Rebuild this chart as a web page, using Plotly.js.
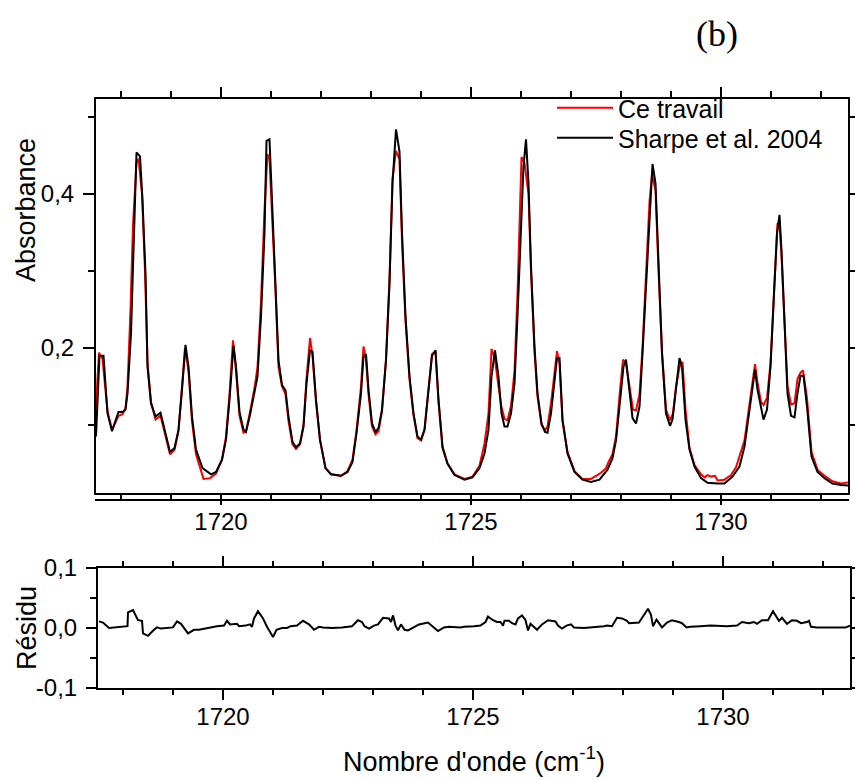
<!DOCTYPE html>
<html>
<head>
<meta charset="utf-8">
<script src="https://cdn.plot.ly/plotly-3.0.1.min.js"></script>
<style>html,body{margin:0;padding:0;background:#fff}#chart{width:855px;height:780px}</style>
</head>
<body>
<div id="chart"></div>
<script>
// Sharpe et al. 2004 (black)
const sharpeX = [1717.50,1717.57,1717.65,1717.73,1717.82,1717.95,1718.03,1718.09,1718.13,1718.20,1718.25,1718.31,1718.38,1718.43,1718.49,1718.53,1718.60,1718.69,1718.79,1718.90,1718.98,1719.07,1719.15,1719.22,1719.29,1719.35,1719.42,1719.50,1719.63,1719.80,1719.90,1720.02,1720.10,1720.17,1720.25,1720.30,1720.37,1720.45,1720.50,1720.58,1720.67,1720.73,1720.80,1720.87,1720.91,1720.97,1721.02,1721.09,1721.15,1721.22,1721.29,1721.35,1721.43,1721.50,1721.58,1721.65,1721.71,1721.78,1721.83,1721.90,1721.98,1722.09,1722.20,1722.40,1722.53,1722.63,1722.71,1722.80,1722.85,1722.90,1722.95,1723.02,1723.09,1723.15,1723.22,1723.30,1723.37,1723.43,1723.50,1723.57,1723.62,1723.69,1723.77,1723.85,1723.93,1724.00,1724.07,1724.13,1724.22,1724.29,1724.35,1724.43,1724.53,1724.67,1724.87,1725.03,1725.17,1725.27,1725.35,1725.41,1725.48,1725.55,1725.61,1725.67,1725.73,1725.80,1725.87,1725.93,1726.00,1726.05,1726.10,1726.15,1726.20,1726.27,1726.33,1726.41,1726.48,1726.53,1726.60,1726.67,1726.72,1726.77,1726.83,1726.93,1727.07,1727.23,1727.40,1727.57,1727.73,1727.83,1727.90,1727.99,1728.05,1728.10,1728.17,1728.23,1728.30,1728.37,1728.43,1728.50,1728.57,1728.63,1728.69,1728.75,1728.82,1728.90,1728.98,1729.03,1729.10,1729.17,1729.22,1729.29,1729.37,1729.47,1729.60,1729.73,1729.93,1730.07,1730.23,1730.37,1730.47,1730.57,1730.63,1730.68,1730.73,1730.80,1730.85,1730.92,1730.99,1731.07,1731.12,1731.17,1731.21,1731.28,1731.33,1731.40,1731.47,1731.53,1731.59,1731.65,1731.72,1731.81,1731.93,1732.07,1732.23,1732.40,1732.60];
const sharpeY = [0.085,0.190,0.190,0.115,0.092,0.117,0.117,0.120,0.141,0.219,0.327,0.454,0.449,0.392,0.297,0.176,0.128,0.111,0.116,0.085,0.065,0.070,0.094,0.146,0.204,0.176,0.111,0.068,0.044,0.036,0.039,0.055,0.081,0.133,0.203,0.176,0.117,0.094,0.091,0.113,0.141,0.163,0.241,0.349,0.469,0.471,0.392,0.284,0.184,0.152,0.145,0.111,0.078,0.071,0.076,0.098,0.154,0.197,0.195,0.133,0.081,0.044,0.036,0.034,0.039,0.052,0.089,0.141,0.189,0.192,0.146,0.102,0.091,0.096,0.120,0.184,0.284,0.414,0.484,0.455,0.349,0.241,0.163,0.115,0.085,0.081,0.094,0.133,0.190,0.197,0.133,0.072,0.050,0.035,0.029,0.032,0.044,0.063,0.094,0.163,0.197,0.163,0.115,0.098,0.098,0.115,0.154,0.241,0.349,0.436,0.471,0.414,0.306,0.202,0.141,0.102,0.091,0.090,0.115,0.163,0.187,0.187,0.107,0.063,0.039,0.029,0.026,0.029,0.042,0.057,0.080,0.137,0.176,0.185,0.141,0.109,0.102,0.124,0.193,0.284,0.379,0.439,0.414,0.306,0.193,0.115,0.099,0.107,0.146,0.187,0.176,0.107,0.068,0.046,0.031,0.025,0.024,0.024,0.033,0.046,0.072,0.120,0.154,0.172,0.146,0.120,0.107,0.120,0.176,0.284,0.349,0.373,0.327,0.219,0.141,0.112,0.110,0.141,0.164,0.164,0.124,0.059,0.039,0.031,0.024,0.022,0.021];

// Ce travail (red)
const ceX = [1717.45,1717.56,1717.63,1717.73,1717.82,1717.95,1718.03,1718.09,1718.13,1718.19,1718.24,1718.31,1718.35,1718.42,1718.48,1718.53,1718.60,1718.69,1718.79,1718.90,1718.98,1719.07,1719.15,1719.22,1719.28,1719.35,1719.42,1719.50,1719.60,1719.65,1719.78,1719.90,1720.02,1720.10,1720.17,1720.24,1720.30,1720.37,1720.45,1720.50,1720.58,1720.67,1720.73,1720.80,1720.87,1720.93,1720.97,1721.02,1721.09,1721.15,1721.22,1721.29,1721.35,1721.43,1721.50,1721.58,1721.65,1721.71,1721.78,1721.83,1721.90,1721.98,1722.09,1722.20,1722.40,1722.53,1722.63,1722.71,1722.80,1722.85,1722.90,1722.95,1723.02,1723.09,1723.15,1723.22,1723.30,1723.37,1723.43,1723.50,1723.57,1723.62,1723.69,1723.77,1723.85,1723.93,1724.00,1724.07,1724.13,1724.22,1724.29,1724.35,1724.43,1724.53,1724.67,1724.87,1725.03,1725.17,1725.27,1725.35,1725.41,1725.48,1725.55,1725.61,1725.67,1725.73,1725.80,1725.87,1725.93,1726.01,1726.07,1726.15,1726.20,1726.27,1726.33,1726.41,1726.48,1726.53,1726.60,1726.67,1726.72,1726.77,1726.83,1726.93,1727.07,1727.23,1727.40,1727.50,1727.60,1727.70,1727.75,1727.83,1727.90,1727.98,1728.04,1728.10,1728.17,1728.24,1728.30,1728.37,1728.43,1728.50,1728.57,1728.62,1728.69,1728.75,1728.82,1728.90,1728.98,1729.04,1729.10,1729.17,1729.23,1729.29,1729.37,1729.47,1729.60,1729.67,1729.73,1729.80,1729.88,1729.93,1730.07,1730.20,1730.30,1730.47,1730.57,1730.63,1730.68,1730.73,1730.80,1730.85,1730.92,1730.99,1731.07,1731.13,1731.17,1731.21,1731.28,1731.33,1731.40,1731.47,1731.53,1731.59,1731.64,1731.72,1731.81,1731.93,1732.07,1732.23,1732.40,1732.60];
const ceY = [0.070,0.194,0.186,0.118,0.094,0.112,0.114,0.122,0.150,0.250,0.360,0.440,0.446,0.400,0.300,0.180,0.130,0.107,0.112,0.082,0.062,0.068,0.092,0.150,0.200,0.170,0.105,0.062,0.040,0.030,0.031,0.037,0.055,0.085,0.140,0.210,0.170,0.112,0.090,0.092,0.117,0.148,0.175,0.260,0.380,0.452,0.445,0.380,0.275,0.175,0.150,0.140,0.105,0.075,0.069,0.075,0.100,0.160,0.213,0.190,0.130,0.080,0.044,0.036,0.034,0.040,0.055,0.093,0.150,0.202,0.185,0.140,0.098,0.088,0.092,0.118,0.185,0.290,0.420,0.456,0.445,0.340,0.235,0.160,0.113,0.083,0.080,0.093,0.133,0.192,0.195,0.130,0.070,0.050,0.036,0.030,0.033,0.047,0.076,0.115,0.199,0.185,0.150,0.123,0.108,0.106,0.125,0.170,0.270,0.448,0.440,0.400,0.300,0.195,0.137,0.100,0.093,0.098,0.128,0.172,0.196,0.180,0.105,0.065,0.040,0.030,0.030,0.034,0.038,0.044,0.052,0.062,0.085,0.145,0.185,0.180,0.150,0.120,0.119,0.140,0.200,0.290,0.390,0.425,0.405,0.300,0.195,0.120,0.106,0.115,0.150,0.175,0.182,0.120,0.070,0.048,0.036,0.032,0.035,0.033,0.034,0.028,0.029,0.035,0.045,0.080,0.128,0.160,0.179,0.155,0.130,0.126,0.135,0.180,0.290,0.362,0.360,0.320,0.220,0.150,0.127,0.128,0.160,0.168,0.171,0.135,0.065,0.042,0.034,0.027,0.024,0.026];

// Résidu
const residX = [1717.52,1717.60,1717.72,1717.88,1718.02,1718.09,1718.10,1718.20,1718.30,1718.38,1718.40,1718.50,1718.62,1718.68,1718.76,1718.88,1719.00,1719.08,1719.16,1719.30,1719.42,1719.52,1719.62,1719.75,1719.88,1720.02,1720.08,1720.14,1720.28,1720.32,1720.45,1720.54,1720.58,1720.62,1720.70,1720.80,1720.88,1721.00,1721.07,1721.18,1721.28,1721.35,1721.48,1721.60,1721.72,1721.82,1721.92,1722.00,1722.18,1722.38,1722.58,1722.70,1722.78,1722.83,1722.92,1723.02,1723.10,1723.20,1723.32,1723.36,1723.40,1723.45,1723.50,1723.56,1723.63,1723.70,1723.82,1723.92,1724.10,1724.18,1724.30,1724.42,1724.52,1724.75,1724.82,1725.02,1725.15,1725.25,1725.30,1725.40,1725.48,1725.55,1725.60,1725.63,1725.72,1725.78,1725.85,1725.90,1725.98,1726.05,1726.10,1726.15,1726.28,1726.38,1726.50,1726.65,1726.70,1726.78,1726.87,1726.96,1727.02,1727.22,1727.42,1727.62,1727.68,1727.78,1727.88,1727.98,1728.08,1728.12,1728.32,1728.38,1728.45,1728.50,1728.56,1728.60,1728.67,1728.78,1728.88,1728.98,1729.12,1729.18,1729.27,1729.35,1729.55,1729.75,1730.08,1730.28,1730.38,1730.52,1730.62,1730.68,1730.78,1730.90,1731.00,1731.12,1731.18,1731.28,1731.38,1731.48,1731.56,1731.68,1731.72,1731.76,1731.88,1732.08,1732.28,1732.45,1732.55];
const residY = [0.011,0.009,0.000,0.001,0.002,0.003,0.026,0.030,0.013,0.012,-0.009,-0.013,-0.003,0.001,-0.001,0.000,0.001,0.011,0.007,-0.009,-0.003,-0.003,-0.001,0.001,0.003,0.004,0.012,0.006,0.007,0.003,0.004,0.006,0.002,0.016,0.028,0.016,0.002,-0.015,-0.003,0.000,0.000,0.003,0.004,0.012,0.006,-0.003,0.002,0.001,0.000,0.001,0.003,0.013,0.010,0.003,-0.001,0.004,0.006,0.017,0.016,0.010,0.021,0.004,-0.004,0.006,-0.003,-0.004,0.002,0.006,0.009,0.004,-0.005,0.001,0.002,0.001,0.002,0.003,0.004,0.010,0.019,0.013,0.010,0.010,0.004,0.012,0.012,0.008,0.006,0.016,0.021,0.013,-0.004,0.007,-0.003,0.006,0.013,0.011,0.004,-0.001,0.004,0.006,0.001,0.000,0.001,0.003,0.004,0.003,0.017,0.016,0.012,0.008,0.009,0.017,0.024,0.032,0.022,0.003,0.014,0.001,0.009,0.013,0.010,0.008,0.001,0.002,0.003,0.004,0.003,0.004,0.010,0.008,0.010,0.007,0.013,0.013,0.028,0.012,0.017,0.007,0.013,0.012,0.008,0.010,0.012,0.002,0.001,0.001,0.002,0.001,0.004];

const seriesNames = ['Ce travail', 'Sharpe et al. 2004'];
const xMajorTicks = [1720, 1725, 1730];
const resTickVals = [-0.1, 0, 0.1];
const resTickText = ['-0,1', '0,0', '0,1'];
const absTickVals = [0.2, 0.4];
const absTickText = ['0,2', '0,4'];

const W = 855, H = 780;
const px = v => v / W;
const py = v => 1 - v / H;
const FONT = 'Liberation Sans, Arial, sans-serif';

const traces = [
  {x: ceX, y: ceY, name: seriesNames[0], type: 'scatter', mode: 'lines', legend: 'legend',
   line: {color: '#ff0000', width: 2}, xaxis: 'x', yaxis: 'y'},
  {x: sharpeX, y: sharpeY, name: seriesNames[1], type: 'scatter', mode: 'lines', legend: 'legend2',
   line: {color: '#000000', width: 2}, xaxis: 'x', yaxis: 'y'},
  {x: residX, y: residY, name: 'Résidu', type: 'scatter', mode: 'lines', showlegend: false,
   line: {color: '#000000', width: 2}, xaxis: 'x2', yaxis: 'y2'}
];

const axCommon = {
  showgrid: false, zeroline: false, showline: true, linecolor: '#000', linewidth: 2,
  mirror: 'allticks', ticks: 'outside', tickcolor: '#000', tickwidth: 2,
  tickfont: {family: FONT, size: 24, color: '#000'}
};

const legendCommon = {
  xanchor: 'left', yanchor: 'top', bgcolor: 'rgba(0,0,0,0)', borderwidth: 0, itemwidth: 56,
  font: {family: FONT, size: 25, color: '#000'}
};

const layout = {
  width: W, height: H,
  margin: {l: 0, r: 0, t: 0, b: 0},
  paper_bgcolor: '#fff', plot_bgcolor: '#fff',
  separators: ', ',
  font: {family: FONT, color: '#000'},
  showlegend: true,
  legend: Object.assign({}, legendCommon, {x: px(552), y: py(85)}),
  legend2: Object.assign({}, legendCommon, {x: px(552), y: py(115)}),
  xaxis: Object.assign({}, axCommon, {
    domain: [px(96), px(848)], range: [1717.5, 1732.54], anchor: 'y',
    tickmode: 'array', tickvals: xMajorTicks, ticklen: 10, ticklabelstandoff: -4,
    minor: {dtick: 1, tick0: 1720, ticklen: 6, tickwidth: 2, tickcolor: '#000', ticks: 'outside'}
  }),
  yaxis: Object.assign({}, axCommon, {
    domain: [py(493), py(99)], range: [0.0117, 0.5234], anchor: 'x',
    tickmode: 'array', tickvals: absTickVals, ticktext: absTickText, ticklen: 11, ticklabelstandoff: 4,
    minor: {dtick: 0.1, tick0: 0, ticklen: 6, tickwidth: 2, tickcolor: '#000', ticks: 'outside'}
  }),
  xaxis2: Object.assign({}, axCommon, {
    domain: [px(98), px(850)], range: [1717.5, 1732.54], anchor: 'y2',
    tickmode: 'array', tickvals: xMajorTicks, ticklen: 10, ticklabelstandoff: -4,
    minor: {dtick: 1, tick0: 1720, ticklen: 5, tickwidth: 2, tickcolor: '#000', ticks: 'outside'},
    title: {text: "Nombre d'onde (cm<sup>-1</sup>)", font: {family: FONT, size: 27, color: '#000'}, standoff: 23}
  }),
  yaxis2: Object.assign({}, axCommon, {
    domain: [py(688), py(568)], range: [-0.1, 0.1], anchor: 'x2',
    tickmode: 'array', tickvals: resTickVals, ticktext: resTickText, ticklen: 10, ticklabelstandoff: 4,
    minor: {dtick: 0.05, tick0: 0, ticklen: 6, tickwidth: 2, tickcolor: '#000', ticks: 'outside'}
  }),
  shapes: [
    {type: 'line', xref: 'paper', yref: 'paper', x0: px(95), x1: px(849), y0: py(500), y1: py(500),
     line: {color: '#000', width: 2}}
  ],
  annotations: [
    {text: 'Absorbance', xref: 'paper', yref: 'paper', x: px(26), y: py(210),
     xanchor: 'center', yanchor: 'middle', textangle: -90, showarrow: false,
     font: {family: FONT, size: 27, color: '#000'}},
    {text: 'Résidu', xref: 'paper', yref: 'paper', x: px(27), y: py(628),
     xanchor: 'center', yanchor: 'middle', textangle: -90, showarrow: false,
     font: {family: FONT, size: 27, color: '#000'}},
    {text: '(b)', xref: 'paper', yref: 'paper', x: px(717), y: py(34),
     xanchor: 'center', yanchor: 'middle', showarrow: false,
     font: {family: 'Liberation Serif, Times New Roman, serif', size: 36, color: '#000'}}
  ]
};

Plotly.newPlot('chart', traces, layout, {staticPlot: true, displayModeBar: false});
</script>
</body>
</html>
